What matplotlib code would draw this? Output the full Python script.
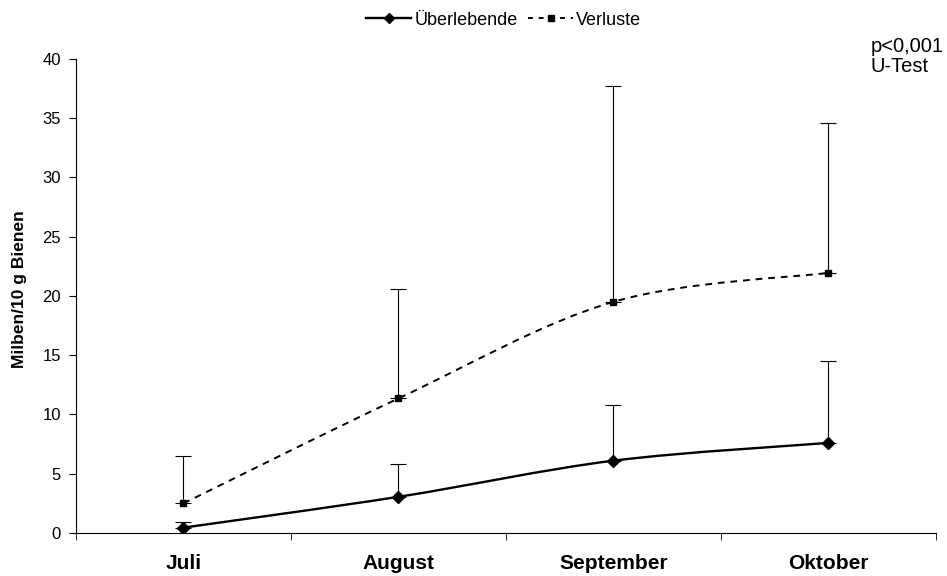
import matplotlib.pyplot as plt
import numpy as np
from matplotlib.path import Path
from matplotlib.patches import PathPatch
from matplotlib.lines import Line2D

plt.rcParams["font.family"] = ["Liberation Sans", "DejaVu Sans"]

months = ["Juli", "August", "September", "Oktober"]
survivors = [0.45, 3.05, 6.1, 7.6]
survivors_upper = [0.95, 5.85, 10.8, 14.5]
losses = [2.5, 11.35, 19.5, 21.95]
losses_upper = [6.5, 20.6, 37.7, 34.6]


def smooth_path(x, y):
    # Excel-style smoothed line: Catmull-Rom as cubic Bezier segments
    pts = np.column_stack([x, y]).astype(float)
    verts = [pts[0]]
    codes = [Path.MOVETO]
    n = len(pts)
    for i in range(n - 1):
        p0 = pts[i - 1] if i > 0 else pts[i]
        p1 = pts[i]
        p2 = pts[i + 1]
        p3 = pts[i + 2] if i + 2 < n else pts[i + 1]
        c1 = p1 + (p2 - p0) / 6.0
        c2 = p2 - (p3 - p1) / 6.0
        verts += [c1, c2, p2]
        codes += [Path.CURVE4] * 3
    return Path(verts, codes)


fig = plt.figure(figsize=(9.47, 5.76), dpi=100)
ax = fig.add_axes([0.0803, 0.0747, 0.9077, 0.8229])

x = np.arange(len(months))

# error bars (upper only)
for vals, upper in [(survivors, survivors_upper), (losses, losses_upper)]:
    err = np.array(upper) - np.array(vals)
    ax.errorbar(x, vals, yerr=[np.zeros_like(err), err], fmt="none",
                ecolor="black", elinewidth=0.8, capsize=6, capthick=0.8,
                zorder=2)

ax.add_patch(PathPatch(smooth_path(x, survivors), fill=False,
                       edgecolor="black", linewidth=1.7, zorder=3))
ax.add_patch(PathPatch(smooth_path(x, losses), fill=False,
                       edgecolor="black", linewidth=1.4,
                       linestyle=(0, (3.5, 3)), zorder=3))
ax.plot(x, survivors, linestyle="none", marker="D", markersize=6.3,
        color="black", zorder=4)
ax.plot(x, losses, linestyle="none", marker="s", markersize=5,
        color="black", zorder=4)

ax.set_xlim(-0.5, 3.5)
ax.set_ylim(0, 40)
ax.set_yticks(range(0, 41, 5))
ax.set_xticks(x)
ax.set_xticklabels(months, fontsize=15, fontweight="bold")
ax.set_xticks(np.arange(-0.5, 3.6, 1), minor=True)
ax.tick_params(axis="x", which="major", length=0, pad=15)
ax.tick_params(axis="x", which="minor", length=5, direction="out")
ax.tick_params(axis="y", length=5, direction="out", labelsize=12, pad=6)

ax.spines["top"].set_visible(False)
ax.spines["right"].set_visible(False)
ax.set_ylabel("Milben/10 g Bienen", fontsize=12.5, fontweight="bold")
ax.yaxis.set_label_coords(-0.057, 0.515)

handles = [
    Line2D([], [], color="black", linewidth=1.7, marker="D", markersize=5.5),
    Line2D([], [], color="black", linewidth=1.4, linestyle=(0, (2.5, 3)),
           marker="s", markersize=4.5),
]
fig.legend(handles, ["Überlebende", "Verluste"], loc="center",
           bbox_to_anchor=(0.532, 0.965), ncol=2, frameon=False, fontsize=13,
           handlelength=2.5, handletextpad=0.15, columnspacing=0.6)

fig.text(0.919, 0.936, "p<0,001\nU-Test", fontsize=14.5, va="top", ha="left",
         linespacing=1.1)

fig.savefig("out.png", dpi=100)
